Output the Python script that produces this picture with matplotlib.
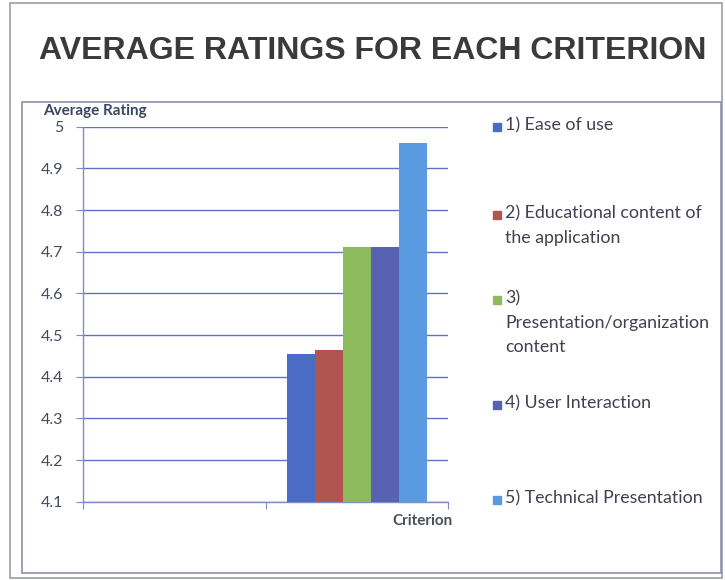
import numpy as np
import matplotlib.pyplot as plt
from matplotlib.patches import Rectangle

# data
title = "AVERAGE RATINGS FOR EACH CRITERION"
ylabel = "Average Rating"
xlabel = "Criterion"
categories = ["", ""]  # first category slot is empty in the original
series_names = [
    "1) Ease of use",
    "2) Educational content of\nthe application",
    "3)\nPresentation/organization\ncontent",
    "4) User Interaction",
    "5) Technical Presentation",
]
series_values = [
    [np.nan, 4.455],
    [np.nan, 4.463],
    [np.nan, 4.711],
    [np.nan, 4.711],
    [np.nan, 4.962],
]
colors = ["#4a6cc4", "#b0554f", "#8cba5c", "#5862b2", "#5a9ae0"]
yticks = [4.1, 4.2, 4.3, 4.4, 4.5, 4.6, 4.7, 4.8, 4.9, 5.0]
ytick_labels = ["4.1", "4.2", "4.3", "4.4", "4.5", "4.6", "4.7", "4.8", "4.9", "5"]

plt.rcParams['font.family'] = ['Lato', 'DejaVu Sans']

fig = plt.figure(figsize=(7.25, 5.8), dpi=100)
W, H = 725, 580

# frames around the chart
fig.patches.append(Rectangle((10 / W, 1 - 578 / H), 712 / W, 575 / H, transform=fig.transFigure,
                             fill=False, ec="#9a9ca8", lw=1.2))
fig.patches.append(Rectangle((22 / W, 1 - 573 / H), 699 / W, 471 / H, transform=fig.transFigure,
                             fill=False, ec="#8c90aa", lw=1.2))

fig.text(373 / W, 1 - 51 / H, title, ha="center", va="center", fontsize=23,
         fontweight="bold", family="Liberation Sans", color="#3a3a3c")

ax = fig.add_axes([83 / W, 1 - 501.7 / H, 365 / W, 375 / H])
n = len(series_values)
bw = 0.153
x = np.arange(len(categories)) + 0.5
for i, (vals, c) in enumerate(zip(series_values, colors)):
    ax.bar(x + (i - (n - 1) / 2) * bw, vals, width=bw, bottom=0, color=c, zorder=3)

ax.set_ylim(4.1, 5.0)
ax.set_xlim(0, len(categories))
ax.set_yticks(yticks)
ax.set_yticklabels(ytick_labels)
ax.set_xticks(np.arange(len(categories) + 1))
ax.set_xticklabels([])
ax.grid(axis="y", color="#6072c4", lw=1.0, zorder=0)
for s in ["top", "right"]:
    ax.spines[s].set_visible(False)
for s in ["left", "bottom"]:
    ax.spines[s].set_color("#7f8cc8")
    ax.spines[s].set_linewidth(1.0)
ax.tick_params(axis="y", length=5, color="#7f8cc8", labelsize=11.5, labelcolor="#454b5e", pad=9)
ax.tick_params(axis="x", length=5, color="#7f8cc8")

fig.text(43 / W, 1 - 111 / H, ylabel, ha="left", va="center", fontsize=11,
         fontweight="bold", color="#3c4660")
fig.text(453 / W, 1 - 521 / H, xlabel, ha="right", va="center", fontsize=11,
         fontweight="bold", color="#4a4e5a")

# legend drawn by hand to keep the original spacing
legend_y = [127, 215, 300, 405, 500]
for name, c, yy in zip(series_names, colors, legend_y):
    fig.patches.append(Rectangle((493 / W, 1 - (yy + 4) / H), 8 / W, 8 / H,
                                 transform=fig.transFigure, color=c))
    fig.text(505 / W, 1 - (yy - 10) / H, name, ha="left", va="top", fontsize=12.8,
             color="#3e4250", linespacing=1.65)

fig.savefig("out.png", dpi=100)
